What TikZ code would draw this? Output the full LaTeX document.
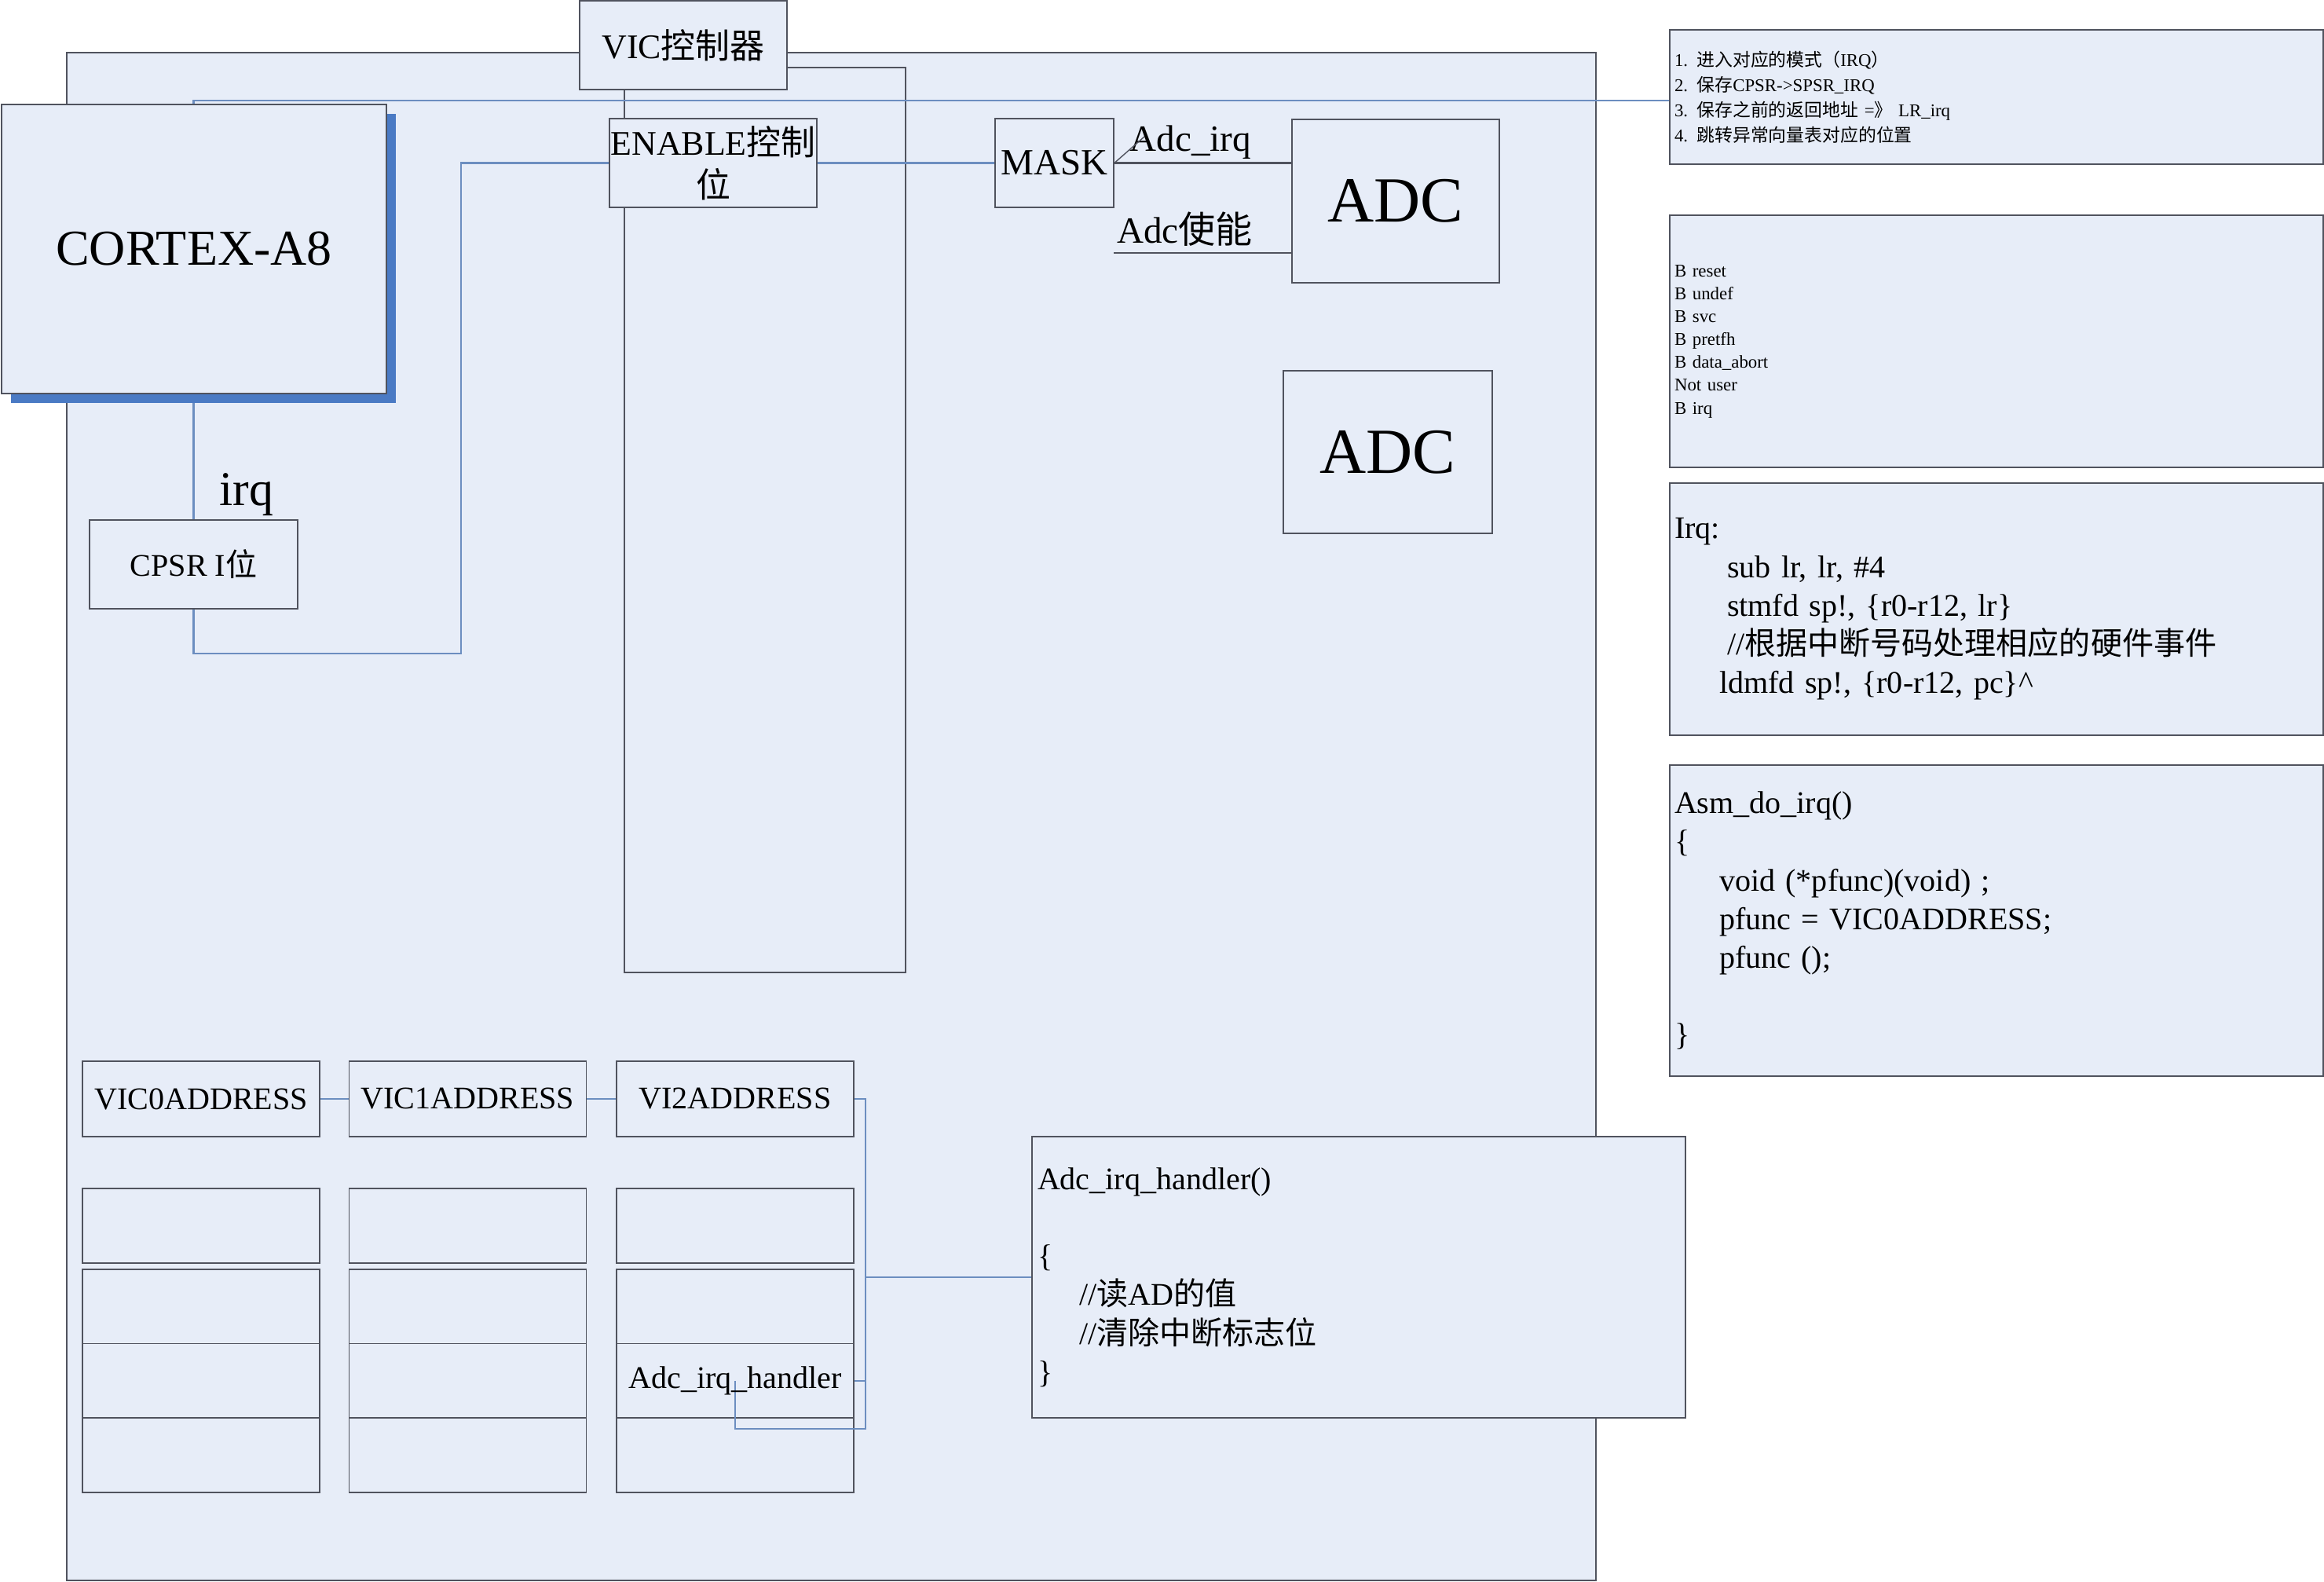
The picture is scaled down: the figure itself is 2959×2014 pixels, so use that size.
\documentclass[tikz,border=0pt]{standalone}
\usepackage{fontspec}
\setmainfont{Liberation Serif}
\newfontfamily\cjk{Noto Sans CJK SC}
\usetikzlibrary{shadows}
\definecolor{boxfill}{RGB}{231,237,248}
\definecolor{linkblue}{RGB}{108,142,192}
\definecolor{shadowblue}{RGB}{74,122,196}
\definecolor{edgegray}{RGB}{80,83,94}
\newcommand{\zh}[1]{{\cjk #1}}
\pgfdeclarelayer{frame}
\pgfdeclarelayer{wires}
\pgfsetlayers{frame,wires,main}

\begin{document}
\begin{tikzpicture}[x=0.1mm,y=-0.1mm,
  blk/.style={draw=edgegray,fill=boxfill,line width=0.5pt,inner sep=0pt,align=center},
  link/.style={draw=linkblue,line width=0.6pt},
  wire/.style={draw=edgegray,line width=0.6pt},
  cell/.style={blk,minimum width=30.2mm,minimum height=9.5mm},
  note/.style={blk,text width=82mm,inner xsep=0.6mm,align=left},
  fcortex/.style={font=\fontsize{18.2pt}{21pt}\selectfont},
  fadc/.style={font=\fontsize{23.3pt}{26pt}\selectfont},
  firq/.style={font=\fontsize{17.6pt}{20pt}\selectfont},
  fmid/.style={font=\fontsize{12.5pt}{15.5pt}\selectfont},
  flab/.style={font=\fontsize{13.4pt}{16pt}\selectfont},
  fbody/.style={font=\fontsize{11.4pt}{14pt}\selectfont},
  ftiny/.style={font=\fontsize{6.5pt}{9.1pt}\selectfont},
  ftinyb/.style={font=\fontsize{6.5pt}{8.3pt}\selectfont}]
\useasboundingbox (0,0) rectangle (2959,2014);

% board and VIC body
\begin{pgfonlayer}{frame}
  \node[blk,minimum width=194.7mm,minimum height=194.5mm] (soc) at (1058.5,1039.5) {};
  \node[blk,minimum width=35.8mm,minimum height=115.2mm] (vicbody) at (974,662) {};
\end{pgfonlayer}

% top part
\node[blk,fcortex,minimum width=49mm,minimum height=36.8mm,
  drop shadow={shadow xshift=1.2mm,shadow yshift=-1.2mm,fill=shadowblue,opacity=1}] (cortex) at (247,317) {CORTEX-A8};
\node[blk,fbody,minimum width=26.5mm,minimum height=11.3mm] (cpsr) at (246.5,718.5) {CPSR I\zh{位}};
\node[firq,anchor=base west,inner sep=0pt] (irqlbl) at (279,644) {irq};
\node[blk,fmid,minimum width=26.4mm,minimum height=11.3mm] (vic) at (870,57.5) {VIC\zh{控制器}};
\node[blk,fmid,minimum width=26.4mm,minimum height=11.3mm] (enable) at (908,207.5) {ENABLE\zh{控制}\\\zh{位}};
\node[blk,flab,minimum width=15.1mm,minimum height=11.3mm] (mask) at (1342.5,207.5) {MASK};
\node[blk,fadc,minimum width=26.4mm,minimum height=20.8mm] (adc) at (1777,256) {ADC};
\node[blk,fadc,minimum width=26.6mm,minimum height=20.7mm] (adcb) at (1767,575.5) {ADC};

% notes on the right
\node[note,ftiny,minimum height=17.1mm] (note1) at (2542,123.5) {1. \zh{进入对应的模式（}IRQ\zh{）}\\
2.\enspace\zh{保存}CPSR->SPSR\_IRQ\\
3.\enspace\zh{保存之前的返回地址} =\zh{》} LR\_irq\\
4.\enspace\zh{跳转异常向量表对应的位置}};
\node[note,ftinyb,minimum height=32.1mm] (note2) at (2542,434.5) {B reset\\B undef\\B svc\\B pretfh\\B data\_abort\\Not user\\B irq};
\node[note,fbody,minimum height=32.1mm] (note3) at (2542,775.5) {Irq:\\
\hspace*{6.7mm}sub lr, lr, \#4\\
\hspace*{6.7mm}stmfd sp!, \{r0-r12, lr\}\\
\hspace*{6.7mm}//\zh{根据中断号码处理相应的硬件事件}\\
\hspace*{5.7mm}ldmfd sp!, \{r0-r12, pc\}\textasciicircum};
\node[note,fbody,minimum height=39.6mm] (note4) at (2542,1172) {Asm\_do\_irq()\\
\{\\
\hspace*{5.7mm}void (*pfunc)(void) ;\\
\hspace*{5.7mm}pfunc = VIC0ADDRESS;\\
\hspace*{5.7mm}pfunc ();\\[14pt]
\}};

% vector address tables
\node[cell,fbody,minimum height=9.6mm] (vic0) at (256,1399) {VIC0ADDRESS};
\node[cell,fbody,minimum height=9.6mm] (vic1) at (595.5,1399) {VIC1ADDRESS};
\node[cell,fbody,minimum height=9.6mm] (vi2) at (936,1399) {VI2ADDRESS};
\foreach \c/\x in {0/256,1/595.5,2/936}
  \foreach \r/\y in {a/1560.5,b/1663.5,c/1758,d/1852.5}
    \node[cell] (c\c\r) at (\x,\y) {};
\node[note,fbody,text width=81.8mm,inner xsep=0.7mm,minimum height=35.8mm] (handler) at (1730,1626) {Adc\_irq\_handler()\\[14pt]
\{\\
\hspace*{5.3mm}//\zh{读}AD\zh{的值}\\
\hspace*{5.3mm}//\zh{清除中断标志位}\\
\}};

% connectors
\coordinate (bendA) at (587,832);
\coordinate (masktick) at (1457,174);
\coordinate (enin) at (1418,322);
\coordinate (busjn) at (1102,1626);
\coordinate (busend) at (1102,1819);
\begin{pgfonlayer}{wires}
  \draw[link] (cpsr.north) |- ([yshift=-0.45mm]note1.west);
  \draw[link] (cpsr.south) |- (bendA) |- (enable.west);
  \draw[link] (enable.east) -- (mask.west);
\end{pgfonlayer}
\draw[wire] (mask.east) -- node[flab,above,pos=0.43,inner sep=1pt]{Adc\_irq} (mask.east -| adc.west);
\draw[wire,line width=0.4pt] (mask.east) -- (masktick);
\draw[wire] (enin) -- node[flab,above,pos=0.4,inner sep=2pt]{Adc\zh{使能}} (enin -| adc.west);
\draw[link] (vic0.east) -- (vic1.west);
\draw[link] (vic1.east) -- (vi2.west);
\draw[link] (vi2.east) -| (busjn) -- (handler.west);
\draw[link] (c2c.center) |- (busend) -- (busjn);
\draw[link] (c2c.east) -- (c2c.east -| busjn);
\node[fbody] (hcell) at (c2c.center) {Adc\_irq\_handler};
\end{tikzpicture}
\end{document}
